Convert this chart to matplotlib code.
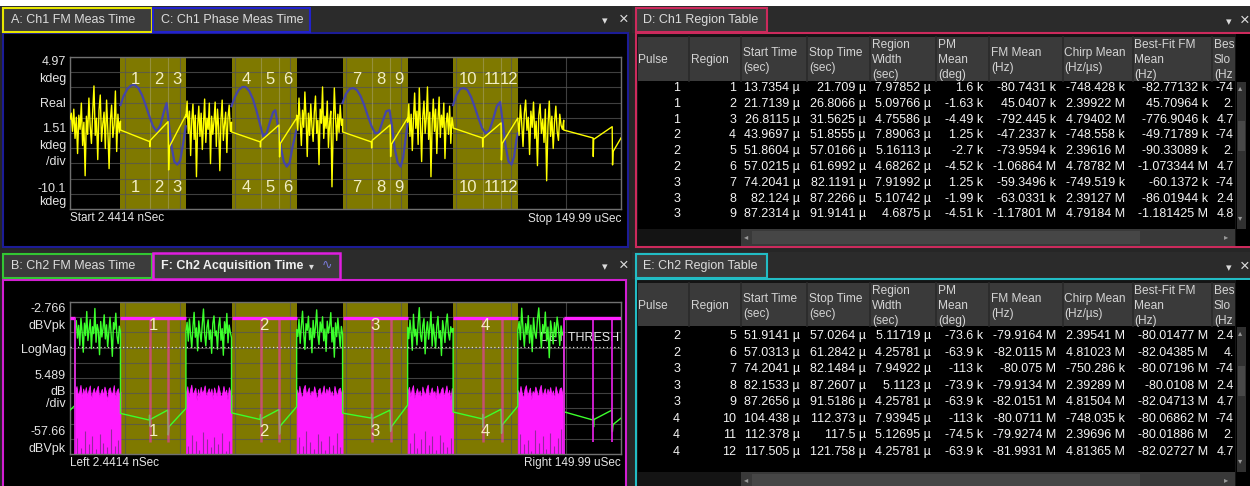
import numpy as np
import matplotlib
matplotlib.use('Agg')
import matplotlib.pyplot as plt
from matplotlib.patches import Rectangle

plt.rcParams['font.family'] = ['Liberation Sans', 'DejaVu Sans']

W, H = 1250, 486

# ---------------- timing (usec) ----------------
pulse_start = [13.7354, 43.9697, 74.2041, 104.3]
pulse_stop = [31.5625, 61.6992, 91.9141, 121.9]
tail_start = 134.4
pulse_ids = ['1', '2', '3', '4']

ch1_region_start = [13.7354, 21.7139, 26.8115, 43.9697, 51.8604, 57.0215,
                    74.2041, 82.124, 87.2314, 104.3, 112.3, 117.4]
ch1_region_stop = [21.709, 26.8066, 31.5625, 51.8555, 57.0166, 61.6992,
                   82.1191, 87.2266, 91.9141, 112.3, 117.4, 121.9]
ch1_region_ids = ['1', '2', '3', '4', '5', '6', '7', '8', '9', '10', '11', '12']
ch2_bounds = [21.71, 26.81, 51.9141, 57.0313, 82.1533, 87.2656, 112.378, 117.505]
tail_bounds = [142.4, 147.6]

# ---------------- top chart: Ch1 FM (yellow) / phase (blue), kdeg ----------------
yel_noise = [
    [-1.2, -0.6, -2.4, -0.2, -3.1, -1.0, -4.6, -0.8, -2.2, 0.4, -3.8, -1.5, -6.8, -0.9, -2.7, 0.9, -1.9, -3.6, -0.4, 2.1,
     -2.8, -1.1, -5.2, -0.3, 1.2, -3.4, -1.7, -0.5, -4.1, 0.7, -2.3, -6.1, -1.3, 0.2, -3.0, -1.8, 1.6, -4.4, -0.7, -2.5, -1.4],
    [-1.0, 0.6, -2.6, -0.4, -4.8, -1.3, 0.3, -3.2, -0.8, -6.9, -1.9, 0.1, -2.9, -0.6, -4.2, -1.6, 0.8, -3.5, -1.1, -2.2,
     0.4, -5.6, -0.9, -2.7, -1.4, 0.5, -3.9, -0.2, -2.0, -6.3, -1.2, 0.7, -3.3, -1.7, -0.5, -4.5, -1.0, 0.2, -2.4, -1.5],
    [-0.8, -2.3, 0.9, -1.4, -3.8, -0.3, -2.0, 1.5, -1.1, -4.9, -0.6, -2.8, 0.3, -1.9, -3.4, -0.5, 1.1, -2.6, -1.3, -5.7,
     -0.2, -1.6, 2.0, -3.1, -0.9, -2.1, 0.6, -4.0, -1.5, -0.4, -7.9, -2.2, 1.9, -1.0, -3.3, -0.7, -2.5, 0.2, -1.8, -1.2],
    [-1.5, 0.3, -2.9, -0.7, -4.3, -1.2, 1.4, -2.1, -0.4, -3.7, 1.9, -1.8, -5.4, -0.9, 0.6, -2.6, -1.1, 2.0, -3.2, -0.5,
     -6.9, -1.7, 0.8, -2.4, -0.2, -4.6, -1.3, 1.0, -3.0, -0.8, -2.0, 0.4, -5.1, -1.6, -0.6, -2.7, 0.1, -3.6, -1.0, -1.9],
    [-1.1, -2.8, 0.2, -1.6, -3.9, -0.6, 0.7, -2.3, -1.0, -4.7, -0.4, -2.0, 0.5, -3.1, -1.4, -5.8, -0.8, 0.3, -2.6, -1.2,
     -3.5, -0.2, -7.3, -1.9, 0.6, -2.9, -0.9, -4.1, -1.5, 0.1, -2.4, -3.3, -0.7, -1.8, -2.2, -1.3],
]
yel_pulse_t = [
    [13.74, 21.70, 21.75, 21.85, 26.70, 26.85, 27.05, 31.56],
    [43.97, 51.80, 51.85, 51.95, 56.90, 57.05, 57.25, 61.70],
    [74.20, 82.05, 82.12, 82.25, 87.15, 87.28, 87.45, 91.91],
    [104.30, 112.30, 112.35, 112.45, 117.35, 117.45, 117.65, 121.90],
    [134.40, 142.40, 142.45, 142.55, 147.60, 147.70, 147.85, 150.0],
]
yel_pulse_v = [
    [-2.27, -3.42, -3.92, -3.30, -1.44, -6.23, -3.92, -0.78],
    [-2.46, -3.45, -3.95, -3.35, -1.77, -4.94, -3.60, -1.08],
    [-2.46, -3.45, -4.05, -3.30, -1.77, -4.90, -3.70, -1.08],
    [-2.07, -3.06, -3.95, -3.10, -1.57, -5.24, -3.60, -1.08],
    [-2.27, -3.06, -4.90, -3.20, -1.94, -5.73, -4.40, -3.06],
]
blue_t = [
    [13.74, 14.6, 15.6, 16.6, 17.6, 18.6, 19.6, 20.6, 21.6, 22.6, 23.6, 24.6, 25.6, 26.3, 26.9, 27.6, 28.4, 29.2, 30.0, 30.8, 31.5],
    [43.97, 44.9, 45.9, 46.9, 47.8, 48.8, 49.8, 50.8, 51.8, 52.6, 53.5, 54.4, 55.3, 55.9, 56.6, 57.4, 58.2, 59.0, 59.8, 60.6, 61.6],
    [74.2, 75.1, 76.1, 77.1, 78.1, 79.1, 80.1, 81.1, 82.1, 83.1, 84.1, 85.1, 86.1, 87.0, 87.7, 88.4, 89.2, 90.0, 90.7, 91.4, 91.9],
    [104.3, 105.2, 106.2, 107.2, 108.2, 109.2, 110.2, 111.2, 112.2, 113.2, 114.2, 115.2, 116.2, 117.1, 117.8, 118.6, 119.4,
     120.2, 120.9, 121.5, 121.9],
]
blue_v = [
    [0.2, 1.1, 1.8, 2.15, 2.2, 1.9, 1.2, 0.2, -0.9, -1.9, -2.4, -1.8, -0.4, 0.4, -1.6, -3.8, -5.4, -5.7, -5.3, -3.6, -1.9],
    [0.1, 1.0, 1.7, 2.0, 2.0, 1.6, 0.8, -0.4, -1.8, -2.9, -2.6, -1.5, -0.5, -0.3, -1.9, -4.0, -5.4, -5.9, -5.5, -3.9, -2.3],
    [0.4, 1.3, 1.8, 1.9, 1.7, 1.1, 0.2, -0.9, -1.9, -2.6, -2.5, -1.4, -0.4, -0.3, -2.0, -4.1, -5.5, -5.9, -5.0, -3.0, -1.6],
    [0.2, 1.2, 1.8, 1.9, 1.7, 1.0, 0.0, -1.1, -2.1, -2.6, -2.3, -1.2, 0.1, 0.5, -1.5, -3.9, -5.4, -5.7, -4.9, -3.3, -2.6],
]

# ---------------- bottom chart: Ch2 acquisition, dBVpk ----------------
grn_lead_t = [0.0, 1.3]
grn_lead_v = [-41.8, -40.2]
grn_noise = [
    [-12.0, -9.5, -15.8, -11.2, -18.4, -8.7, -13.6, -20.9, -10.4, -14.9, -6.2, -16.7, -12.8, -9.1, -19.6, -11.7, -14.2, -5.1,
     -17.3, -10.9, -13.1, -21.8, -9.8, -15.4, -12.3, -7.4, -16.1, -11.0, -18.9, -13.8, -8.3, -14.6, -22.4, -10.2, -12.6,
     -6.8, -15.1, -17.8, -11.5, -13.3],
    [-13.4, -10.1, -16.9, -8.9, -14.7, -19.2, -11.6, -6.5, -15.5, -12.1, -20.4, -9.6, -13.9, -17.1, -10.7, -5.3, -14.4,
     -18.6, -11.9, -9.2, -16.3, -12.9, -21.3, -10.5, -7.8, -15.0, -13.2, -19.8, -11.3, -8.4, -16.6, -12.4, -22.0, -9.9,
     -14.1, -6.9, -17.5, -11.1, -13.7, -15.7],
    [-12.7, -15.2, -9.0, -17.7, -11.4, -6.1, -14.3, -19.9, -10.6, -13.0, -7.9, -16.4, -12.2, -21.1, -9.4, -15.6, -11.8,
     -5.6, -14.8, -18.1, -10.0, -13.5, -8.1, -16.8, -12.5, -20.6, -9.7, -14.0, -11.3, -6.6, -17.2, -12.0, -22.7, -10.3,
     -15.3, -8.6, -13.8, -19.0, -11.6, -14.5],
    [-11.9, -16.0, -9.3, -13.7, -20.2, -7.2, -15.1, -12.6, -18.3, -10.1, -4.8, -14.6, -17.0, -11.2, -8.8, -21.5, -13.4,
     -9.9, -16.2, -12.1, -6.3, -18.7, -10.8, -14.9, -19.4, -11.5, -8.0, -15.8, -13.1, -22.1, -9.5, -12.8, -17.4, -10.4,
     -7.1, -14.2, -16.5, -11.7, -13.6, -12.3],
    [-13.0, -9.8, -16.4, -5.0, -12.4, -18.8, -10.6, -14.5, -7.7, -17.6, -11.1, -20.7, -8.5, -13.9, -15.9, -9.1, -4.9,
     -12.9, -19.3, -10.9, -14.1, -6.4, -16.8, -11.8, -22.9, -9.6, -13.3, -17.9, -10.2, -15.4, -8.2, -12.2, -18.5, -11.4,
     -14.7, -13.5],
]
grn_pulse_t = [
    [13.74, 21.60, 21.66, 21.74, 21.82, 26.60, 26.75, 26.95, 31.56],
    [43.97, 51.80, 51.86, 51.94, 52.02, 56.90, 57.05, 57.25, 61.70],
    [74.20, 82.05, 82.11, 82.19, 82.27, 87.15, 87.28, 87.45, 91.91],
    [104.30, 112.30, 112.36, 112.44, 112.52, 117.35, 117.48, 117.65, 121.90],
    [134.40, 142.40, 142.46, 142.54, 142.62, 147.55, 147.65, 147.85, 150.0],
]
grn_pulse_v = [
    [-43.0, -45.4, -43.6, -47.6, -45.2, -41.8, -50.8, -47.8, -41.2],
    [-42.8, -45.2, -43.4, -47.8, -45.0, -41.6, -50.5, -47.5, -40.6],
    [-42.9, -44.7, -43.2, -48.3, -44.9, -41.8, -49.5, -47.9, -40.0],
    [-42.5, -45.0, -43.3, -48.0, -44.8, -41.5, -50.2, -47.2, -40.4],
    [-42.4, -45.4, -43.6, -47.9, -45.2, -41.8, -49.6, -47.0, -44.7],
]
mag_top = [
    [-34.8, -33.1, -36.5, -35.2, -32.7, -37.4, -34.0, -35.9, -33.5, -36.8, -34.6, -32.9, -38.0, -35.3, -33.8, -36.2,
     -34.4, -33.0, -37.1, -35.6, -34.1, -36.7, -33.3, -35.0, -38.4, -34.3, -33.6, -36.0, -35.4, -32.8, -37.6, -34.9,
     -33.9, -36.4, -35.1],
    [-35.5, -33.2, -37.0, -34.5, -32.6, -36.3, -35.0, -33.7, -38.2, -34.2, -36.9, -33.4, -35.7, -34.8, -32.9, -37.3,
     -35.2, -33.9, -36.1, -34.0, -37.8, -33.6, -35.4, -36.6, -32.8, -34.7, -37.2, -35.8, -33.1, -36.0, -34.4, -38.0,
     -33.5, -35.1, -36.5],
    [-34.3, -36.6, -33.0, -35.8, -37.7, -34.1, -32.7, -36.2, -35.0, -33.6, -37.4, -34.8, -36.0, -33.2, -35.5, -38.3,
     -34.5, -33.8, -36.8, -35.2, -32.9, -37.0, -34.0, -35.7, -33.4, -36.4, -34.9, -37.9, -33.1, -35.3, -36.7, -34.2,
     -33.7, -35.9, -34.6],
    [-35.0, -33.4, -36.9, -34.4, -32.8, -37.5, -35.6, -33.9, -36.3, -34.7, -38.1, -33.3, -35.2, -36.6, -34.0, -32.6,
     -37.2, -35.4, -33.6, -36.0, -34.9, -37.8, -33.0, -35.8, -36.4, -34.3, -33.5, -37.0, -35.1, -32.9, -36.7, -34.5,
     -38.2, -33.8, -35.3],
    [-34.6, -36.2, -33.1, -35.7, -37.6, -34.2, -32.8, -36.5, -35.3, -33.7, -38.0, -34.9, -36.1, -33.3, -35.0, -37.3,
     -34.4, -32.7, -36.8, -35.5, -33.9, -37.1, -34.1, -35.9, -33.5, -36.4, -34.7, -37.8, -33.2, -35.2, -36.6, -34.0,
     -33.6, -36.0, -35.4],
]
mag_streaks = [
    [-52.0, -55.5, -49.5, -54.0, -51.2, -56.0, -50.3, -53.6, -55.0, -48.8, -54.6, -52.7],
    [-54.8, -50.9, -53.1, -56.2, -49.7, -52.4, -55.3, -51.5, -54.1, -50.2, -56.5, -53.0],
    [-51.6, -54.9, -49.2, -53.4, -55.8, -50.6, -52.9, -56.3, -51.0, -54.4, -49.9, -55.1],
    [-53.7, -50.0, -55.6, -52.2, -49.4, -54.5, -51.3, -56.1, -50.8, -53.3, -55.2, -51.9],
    [-50.5, -54.2, -52.5, -56.4, -49.0, -53.8, -51.1, -55.7, -50.1, -54.7, -52.0, -48.6],
]
pulse_level = -8.5
thresh_level = -19.0
bound_floor = -53.3

# ---------------- scale labels ----------------
top_scale = ['4.97', 'kdeg', 'Real', '1.51', 'kdeg', '/div', '-10.1', 'kdeg']
bot_scale = ['-2.766', 'dBVpk', 'LogMag', '5.489', 'dB', '/div', '-57.66', 'dBVpk']
top_ylim = (-10.1, 4.97)
bot_ylim = (-57.66, -2.766)

# ---------------- region tables ----------------
headers = [['Pulse'], ['Region'], ['Start Time', '(sec)'], ['Stop Time', '(sec)'],
           ['Region', 'Width', '(sec)'], ['PM', 'Mean', '(deg)'], ['FM Mean', '(Hz)'],
           ['Chirp Mean', '(Hz/µs)'], ['Best-Fit FM', 'Mean', '(Hz)'], ['Bes', 'Slo', '(Hz']]

d_pulse = ['1', '1', '1', '2', '2', '2', '3', '3', '3']
d_region = ['1', '2', '3', '4', '5', '6', '7', '8', '9']
d_start = ['13.7354 µ', '21.7139 µ', '26.8115 µ', '43.9697 µ', '51.8604 µ', '57.0215 µ', '74.2041 µ', '82.124 µ', '87.2314 µ']
d_stop = ['21.709 µ', '26.8066 µ', '31.5625 µ', '51.8555 µ', '57.0166 µ', '61.6992 µ', '82.1191 µ', '87.2266 µ', '91.9141 µ']
d_width = ['7.97852 µ', '5.09766 µ', '4.75586 µ', '7.89063 µ', '5.16113 µ', '4.68262 µ', '7.91992 µ', '5.10742 µ', '4.6875 µ']
d_pm = ['1.6 k', '-1.63 k', '-4.49 k', '1.25 k', '-2.7 k', '-4.52 k', '1.25 k', '-1.99 k', '-4.51 k']
d_fm = ['-80.7431 k', '45.0407 k', '-792.445 k', '-47.2337 k', '-73.9594 k', '-1.06864 M', '-59.3496 k', '-63.0331 k', '-1.17801 M']
d_chirp = ['-748.428 k', '2.39922 M', '4.79402 M', '-748.558 k', '2.39616 M', '4.78782 M', '-749.519 k', '2.39127 M', '4.79184 M']
d_bfm = ['-82.77132 k', '45.70964 k', '-776.9046 k', '-49.71789 k', '-90.33089 k', '-1.073344 M', '-60.1372 k', '-86.01944 k', '-1.181425 M']
d_slope = ['-74', '2.', '4.7', '-74', '2.', '4.7', '-74', '2.4', '4.8']

e_pulse = ['2', '2', '3', '3', '3', '4', '4', '4']
e_region = ['5', '6', '7', '8', '9', '10', '11', '12']
e_start = ['51.9141 µ', '57.0313 µ', '74.2041 µ', '82.1533 µ', '87.2656 µ', '104.438 µ', '112.378 µ', '117.505 µ']
e_stop = ['57.0264 µ', '61.2842 µ', '82.1484 µ', '87.2607 µ', '91.5186 µ', '112.373 µ', '117.5 µ', '121.758 µ']
e_width = ['5.11719 µ', '4.25781 µ', '7.94922 µ', '5.1123 µ', '4.25781 µ', '7.93945 µ', '5.12695 µ', '4.25781 µ']
e_pm = ['-73.6 k', '-63.9 k', '-113 k', '-73.9 k', '-63.9 k', '-113 k', '-74.5 k', '-63.9 k']
e_fm = ['-79.9164 M', '-82.0115 M', '-80.075 M', '-79.9134 M', '-82.0151 M', '-80.0711 M', '-79.9274 M', '-81.9931 M']
e_chirp = ['2.39541 M', '4.81023 M', '-750.286 k', '2.39289 M', '4.81504 M', '-748.035 k', '2.39696 M', '4.81365 M']
e_bfm = ['-80.01477 M', '-82.04385 M', '-80.07196 M', '-80.0108 M', '-82.04713 M', '-80.06862 M', '-80.01886 M', '-82.02727 M']
e_slope = ['2.4', '4.', '-74', '2.4', '4.7', '-74', '2.', '4.7']

OLIVE = '#7f7900'

fig = plt.figure(figsize=(12.5, 4.86), dpi=100, facecolor='#262626')
bg = fig.add_axes([0, 0, 1, 1])
bg.set_xlim(0, W)
bg.set_ylim(H, 0)
bg.axis('off')


def box(x0, y0, x1, y1, fc, ec='none', lw=0, z=1):
    bg.add_patch(Rectangle((x0, y0), x1 - x0, y1 - y0, facecolor=fc, edgecolor=ec, linewidth=lw, zorder=z))


def label(x, y, s, size=9, color='#dcdcdc', ha='left', z=3, **kw):
    bg.text(x, y, s, fontsize=size, color=color, ha=ha, va='center', zorder=z, **kw)


def px_axes(x0, y0, x1, y1):
    return [x0 / W, 1 - y1 / H, (x1 - x0) / W, (y1 - y0) / H]


box(0, 0, W, 6, 'white', z=0.5)

# ---- left panels ----
box(0, 6, 630, 33, '#2b2b2b')
box(3, 33, 628, 247, 'black', ec='#1c1c96', lw=1.5)
box(3, 8, 152, 32, '#3c3c3c', ec='#e6e600', lw=1.5, z=2)
box(153, 8, 310, 32, '#3c3c3c', ec='#2222cc', lw=1.5, z=2)
label(11, 20, 'A: Ch1 FM Meas Time')
label(161, 20, 'C: Ch1 Phase Meas Time')
label(602, 21, '▾', size=8)
label(619, 19, '×', size=12)

box(0, 250, 630, 280, '#2b2b2b')
box(3, 280, 626, 490, 'black', ec='#d21ed2', lw=1.5)
box(3, 254, 152, 278, '#3c3c3c', ec='#33c633', lw=1.5, z=2)
box(153, 253, 340, 279, '#3c3c3c', ec='#e01ee0', lw=1.8, z=2)
label(11, 266, 'B: Ch2 FM Meas Time')
label(161, 266, 'F: Ch2 Acquisition Time', weight='bold', color='#f0f0f0')
label(309, 266, '▾', size=7)
label(322, 266, '∿', size=9, color='#7a7ad8')
label(602, 267, '▾', size=8)
label(619, 265, '×', size=12)

top_scale_y = [62, 79, 104, 129, 146, 162, 189, 202]
for s, y in zip(top_scale, top_scale_y):
    label(66, y, s, ha='right', color='#e4e4e4')
bot_scale_y = [309, 326, 350, 376, 392, 404, 432, 449]
for s, y in zip(bot_scale, bot_scale_y):
    label(66, y, s, ha='right', color='#e4e4e4')
label(70, 218, 'Start 2.4414 nSec', size=8.5, color='#e4e4e4')
label(621, 219, 'Stop 149.99 uSec', size=8.5, color='#e4e4e4', ha='right')
label(70, 463, 'Left 2.4414 nSec', size=8.5, color='#e4e4e4')
label(621, 463, 'Right 149.99 uSec', size=8.5, color='#e4e4e4', ha='right')

# ---- right table panels ----
col_edges = [689, 741, 807, 870, 936, 989, 1063, 1133, 1212]
head_x = [638, 691, 743, 809, 872, 938, 991, 1064, 1134, 1214]
val_x = [680, 736, 800, 866, 931, 983, 1056, 1125, 1208, 1234]


def region_table(ytab, ecol, title, hy0, hy1, row0, dy, cols, ybot):
    box(632, ytab - 2, W, ytab + 25, '#2b2b2b')
    box(636, ytab + 25, W + 5, ybot, '#141414', ec=ecol, lw=1.5)
    box(636, ytab, 767, ytab + 24, '#3c3c3c', ec=ecol, lw=1.5, z=2)
    label(643, ytab + 12, title)
    label(1226, ytab + 14, '▾', size=8)
    label(1240, ytab + 12, '×', size=12)
    box(638, hy0, 1235, hy1, '#3a3a3a', z=1.5)
    box(638, hy1, 1235, ybot - 18, 'black', z=1.5)
    for xe in col_edges:
        bg.plot([xe, xe], [hy0, hy1], color='#2a2a2a', lw=1.2, zorder=1.6)
    offs = {1: [23], 2: [16, 31], 3: [8, 23, 38]}
    for hx, lines in zip(head_x, headers):
        for ln, off in zip(lines, offs[len(lines)]):
            label(hx, hy0 + off, ln, size=8.6, color='#d4d4d4', z=2)
    for c, vals in enumerate(cols):
        for r, v in enumerate(vals):
            label(val_x[c], row0 + r * dy, v, ha='right', color='#f4f4f4', z=2)
    # scrollbars
    box(741, ybot - 18, 1235, ybot - 1, '#393939', z=2)
    box(752, ybot - 16, 1140, ybot - 3, '#464646', z=2.1)
    label(744, ybot - 9, '◂', size=6, color='#9a9a9a')
    label(1224, ybot - 9, '▸', size=6, color='#9a9a9a')
    box(1236, ytab + 26, W, ybot - 1, 'black', z=5)
    box(1237, hy1 + 1, 1246, ybot - 18, '#303030', z=6)
    box(1238, hy1 + 40, 1245, hy1 + 70, '#484848', z=6.5)
    label(1238, hy1 + 8, '▴', size=6, color='#9a9a9a', z=7)
    label(1238, ybot - 28, '▾', size=6, color='#9a9a9a', z=7)


region_table(8, '#cc2a5c', 'D: Ch1 Region Table', 37, 81, 88, 15.8,
             [d_pulse, d_region, d_start, d_stop, d_width, d_pm, d_fm, d_chirp, d_bfm, d_slope], 247)
region_table(254, '#22bcc4', 'E: Ch2 Region Table', 283, 326, 336, 16.5,
             [e_pulse, e_region, e_start, e_stop, e_width, e_pm, e_fm, e_chirp, e_bfm, e_slope], 490)


# ---- scope axes ----
def scope_axes(rect, ylim):
    ax = fig.add_axes(rect)
    ax.set_facecolor('black')
    ax.set_xlim(0, 150)
    ax.set_ylim(*ylim)
    ax.set_xticks(np.linspace(0, 150, 11))
    ax.set_yticks(np.linspace(ylim[0], ylim[1], 11))
    ax.tick_params(length=0, labelbottom=False, labelleft=False)
    ax.grid(True, color='#555555', lw=0.8, alpha=0.75)
    ax.set_axisbelow('line')
    for s in ax.spines.values():
        s.set_color('#707070')
        s.set_linewidth(1)
    for s, e in zip(pulse_start, pulse_stop):
        ax.axvspan(s, e, color=OLIVE, lw=0, zorder=1)
    return ax


gap_lo = [0.0] + pulse_stop
gap_hi = pulse_start + [tail_start]

ax1 = scope_axes(px_axes(70, 57, 621, 209), top_ylim)
for s, e in zip(ch1_region_start, ch1_region_stop):
    if s not in pulse_start:
        ax1.axvline(s, color='#a8a470', lw=0.8, alpha=0.55, zorder=1.6)
yt, yv = [], []
for i in range(5):
    yt.append(np.linspace(gap_lo[i], gap_hi[i], len(yel_noise[i])))
    yv.append(yel_noise[i])
    yt.append(yel_pulse_t[i])
    yv.append(yel_pulse_v[i])
ax1.plot(np.concatenate(yt), np.concatenate(yv), color='#ffff00', lw=1.0, zorder=3)
for t, v in zip(blue_t, blue_v):
    ax1.plot(t, v, color='#4545a8', lw=1.6, zorder=2.5)
for s, e, rid in zip(ch1_region_start, ch1_region_stop, ch1_region_ids):
    for yy in (2.69, -8.01):
        ax1.text((s + e) / 2, yy, rid, color='#f2eec4', fontsize=12, ha='center', va='center', zorder=4)

ax2 = scope_axes(px_axes(70, 302, 621, 454), bot_ylim)
lead_end = grn_lead_t[-1] + 0.1
g_lo = [lead_end] + pulse_stop
gt, gv = [grn_lead_t], [grn_lead_v]
for i in range(5):
    tt = np.linspace(g_lo[i], gap_hi[i], len(grn_noise[i]))
    gt.append(tt)
    gv.append(grn_noise[i])
    gt.append(grn_pulse_t[i])
    gv.append(grn_pulse_v[i])
    mt = np.linspace(g_lo[i], gap_hi[i], len(mag_top[i]))
    ax2.fill_between(mt, bot_ylim[0], mag_top[i], color='#ff1cff', lw=0.6, edgecolor='#ff1cff', zorder=2)
    st = np.linspace(g_lo[i] + 0.6, gap_hi[i] - 0.6, len(mag_streaks[i]))
    ax2.vlines(st, bot_ylim[0], mag_streaks[i], color='#7a2c86', lw=0.8, alpha=0.8, zorder=2.1)
ax2.text(128.0, -15.8, 'DET THRESH', color='#e8e8e8', fontsize=9, ha='left', va='center', zorder=2.2)
ax2.plot(np.concatenate(gt), np.concatenate(gv), color='#3cff2c', lw=1.0, zorder=3)
ax2.axhline(thresh_level, color='#d8d8d8', ls=(0, (1, 2)), lw=0.9, zorder=3.5)

# pulse markers
box_lo = pulse_start + [0.0, tail_start]
box_hi = pulse_stop + [lead_end, 150.0]
ax2.hlines([pulse_level] * len(box_lo), box_lo, box_hi, color='#ff22ff', lw=2.4, zorder=4)
ax2.vlines([lead_end, tail_start], bot_ylim[0], pulse_level, color='#e020e0', lw=1.3, zorder=4)
ax2.vlines(ch2_bounds, bound_floor, pulse_level, color='#ff30c8', lw=1.8, alpha=0.55, zorder=3.8)
ax2.vlines(tail_bounds, bound_floor, pulse_level, color='#e020e0', lw=1.4, alpha=0.9, zorder=3.8)
for s, e, pid in zip(pulse_start, pulse_stop, pulse_ids):
    for yy in (-11.1, -49.7):
        ax2.text((s + e) / 2, yy, pid, color='#f2eec4', fontsize=12, ha='center', va='center', zorder=5)

fig.savefig('out.png', dpi=100, facecolor=fig.get_facecolor())
